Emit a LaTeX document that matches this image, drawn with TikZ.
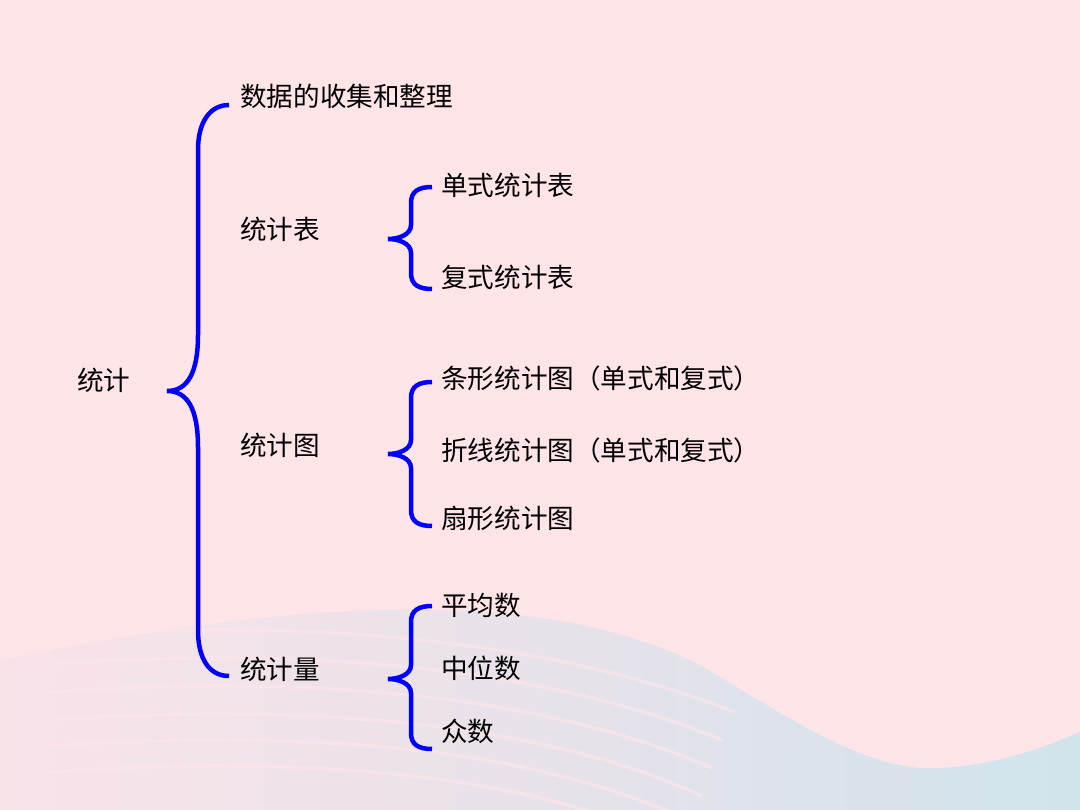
\documentclass[tikz,border=0pt]{standalone}
\usepackage{fontspec}
\newfontfamily\cjk{Noto Sans CJK SC}
\definecolor{bgpink}{RGB}{255,228,232}
\definecolor{wavel}{RGB}{248,227,233}
\definecolor{wavem}{RGB}{232,226,234}
\definecolor{waver}{RGB}{208,228,236}
\definecolor{stripe}{RGB}{255,230,234}
\begin{document}
\begin{tikzpicture}[x=1pt,y=-1pt,
  txt/.style={anchor=west,inner sep=0pt,font=\cjk\fontsize{26.6}{30}\selectfont,text=black},
  bracepath/.style={draw=blue,line width=4.5pt},
  stripeline/.style={draw=stripe,line width=3.5pt,opacity=0.55}]
% background
\fill[bgpink] (0,0) rectangle (1080,810);
\useasboundingbox (0,0) rectangle (1080,810);
\shade[left color=wavel,right color=waver,middle color=wavem]
  (0,660) .. controls (250,610) and (520,575) .. (700,665)
  .. controls (800,725) and (870,772) .. (940,768)
  .. controls (1000,765) and (1050,745) .. (1080,732)
  -- (1080,810) -- (0,810) -- cycle;
\foreach \y/\e in {640/735,668/722,696/712,724/702,750/690,776/680}{
  \draw[stripeline] (0,\y) .. controls (250,\y-22) and (520,\y-12) .. (\e,\y+72);
}
% texts
\node[txt] (root) at (77,380) {统计};
\node[txt] (a) at (240,96) {数据的收集和整理};
\node[txt] (b) at (240,229) {统计表};
\node[txt] (c) at (240,445) {统计图};
\node[txt] (d) at (240,669) {统计量};
\node[txt] (b1) at (441,185) {单式统计表};
\node[txt] (b2) at (441,277) {复式统计表};
\node[txt] (c1) at (441,378) {条形统计图（单式和复式）};
\node[txt] (c2) at (441,450) {折线统计图（单式和复式）};
\node[txt] (c3) at (441,518) {扇形统计图};
\node[txt] (d1) at (441,605) {平均数};
\node[txt] (d2) at (441,668) {中位数};
\node[txt] (d3) at (441,731) {众数};
% big brace
\coordinate (B0t) at (229,105);
\coordinate (B0m) at (167,391);
\coordinate (B0b) at (229,676);
\draw[bracepath] (B0t) .. controls (210,105) and (198,122) .. (198,150) -- (198,335)
  .. controls (198,372) and (188,391) .. (B0m)
  .. controls (188,391) and (198,410) .. (198,447) -- (198,630)
  .. controls (198,660) and (210,676) .. (B0b);
% brace for 统计表
\coordinate (B1t) at (432,187);
\coordinate (B1m) at (388,239);
\coordinate (B1b) at (432,289);
\draw[bracepath] (B1t) .. controls (419,187) and (411,191) .. (411,203) -- (411,225)
  .. controls (411,235) and (398,239) .. (B1m)
  .. controls (398,239) and (411,243) .. (411,253) -- (411,273)
  .. controls (411,285) and (419,289) .. (B1b);
% brace for 统计图
\coordinate (B2t) at (432,382);
\coordinate (B2m) at (388,454);
\coordinate (B2b) at (432,526);
\draw[bracepath] (B2t) .. controls (419,382) and (411,386) .. (411,398) -- (411,440)
  .. controls (411,450) and (398,454) .. (B2m)
  .. controls (398,454) and (411,458) .. (411,468) -- (411,510)
  .. controls (411,522) and (419,526) .. (B2b);
% brace for 统计量
\coordinate (B3t) at (432,606);
\coordinate (B3m) at (388,679);
\coordinate (B3b) at (432,749);
\draw[bracepath] (B3t) .. controls (419,606) and (411,610) .. (411,622) -- (411,665)
  .. controls (411,675) and (398,679) .. (B3m)
  .. controls (398,679) and (411,683) .. (411,693) -- (411,733)
  .. controls (411,745) and (419,749) .. (B3b);
\end{tikzpicture}
\end{document}
